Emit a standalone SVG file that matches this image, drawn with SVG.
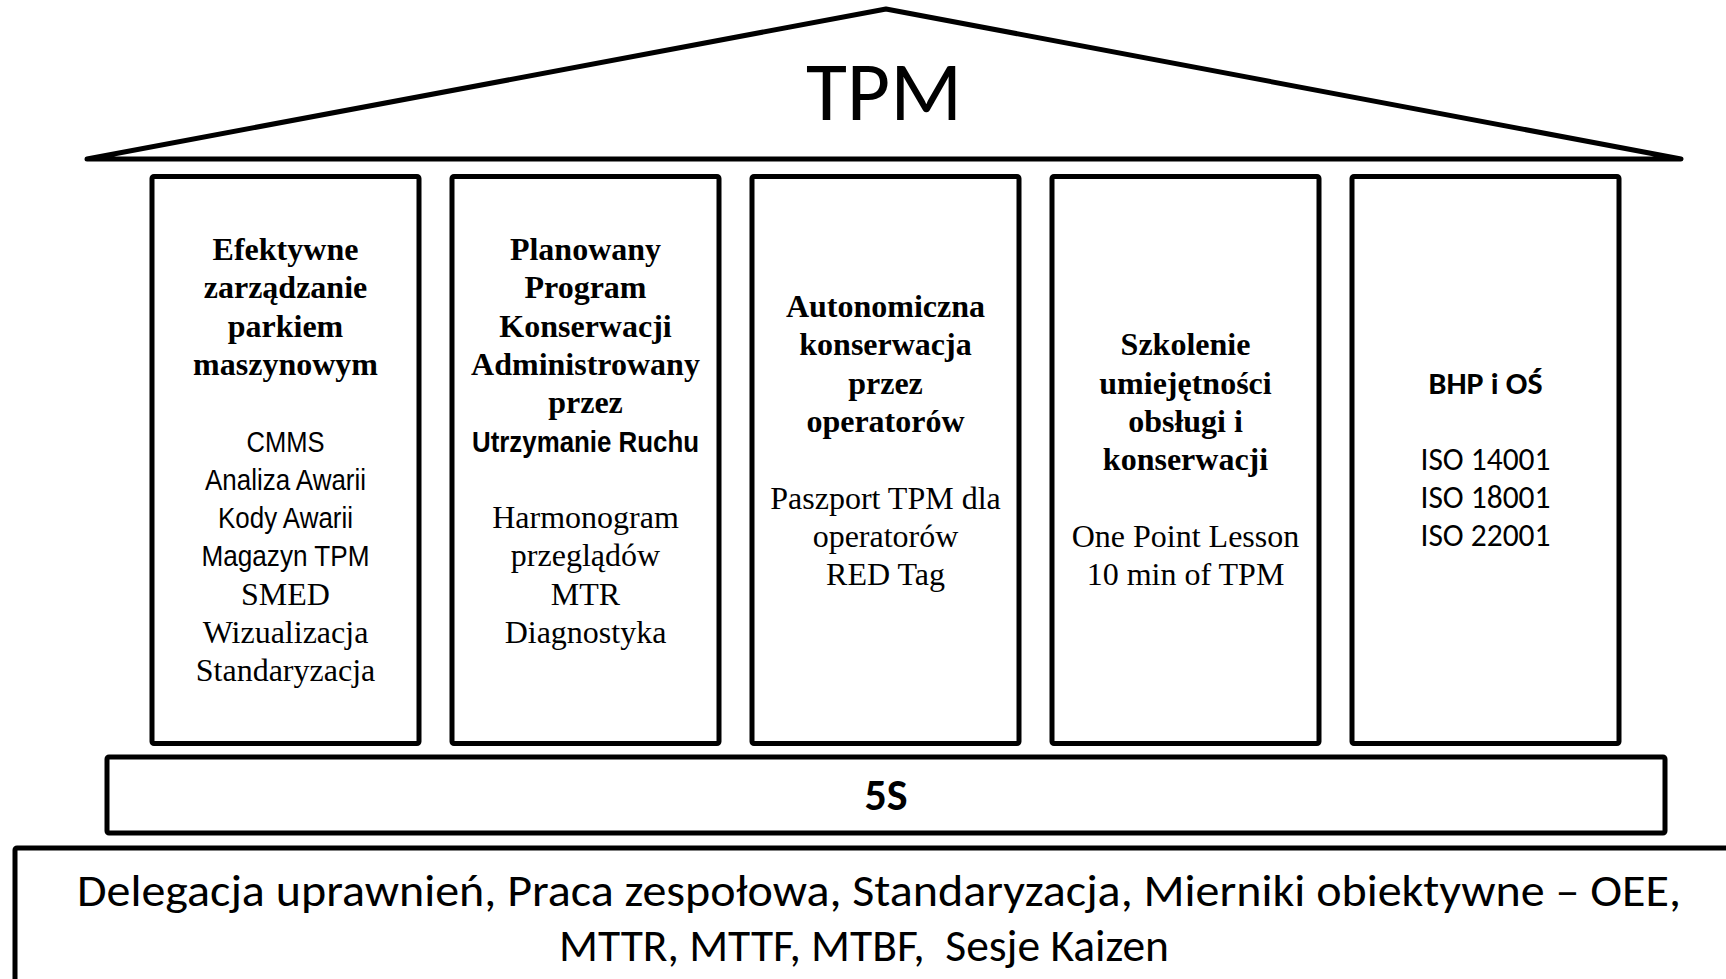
<svg xmlns="http://www.w3.org/2000/svg" width="1726" height="979" viewBox="0 0 1726 979">
<style>
.shape{fill:#fff;stroke:#000;stroke-width:5;stroke-linejoin:round}
.t{font-family:"Liberation Serif","Times New Roman",serif;font-size:32px;text-anchor:middle;fill:#000}
.b{font-weight:bold}
.n{font-family:"Liberation Sans Narrow","Liberation Sans",Arial,sans-serif;font-size:29px;text-anchor:middle;fill:#000}
.c{font-family:Carlito,Lato,"Open Sans",sans-serif;text-anchor:middle;fill:#000}
</style>
<rect width="1726" height="979" fill="#fff"/>
<g id="roof">
<polygon class="shape" points="87,159 886,9 1681,159"/>
<text class="c" x="884" y="120" font-size="84">TPM</text>
</g>
<g id="pillar1">
<rect class="shape" x="152" y="176.5" width="267" height="567" rx="2"/>
<text class="t b" x="285.5" y="260">Efektywne</text>
<text class="t b" x="285.5" y="298">zarządzanie</text>
<text class="t b" x="285.5" y="336.5">parkiem</text>
<text class="t b" x="285.5" y="374.5">maszynowym</text>
<text class="n" x="285.5" y="451.5" textLength="78" lengthAdjust="spacingAndGlyphs">CMMS</text>
<text class="n" x="285.5" y="489.5" textLength="161" lengthAdjust="spacingAndGlyphs">Analiza Awarii</text>
<text class="n" x="285.5" y="528" textLength="135" lengthAdjust="spacingAndGlyphs">Kody Awarii</text>
<text class="n" x="285.5" y="566" textLength="168" lengthAdjust="spacingAndGlyphs">Magazyn TPM</text>
<text class="t" x="285.5" y="604.5">SMED</text>
<text class="t" x="285.5" y="643">Wizualizacja</text>
<text class="t" x="285.5" y="681">Standaryzacja</text>
</g>
<g id="pillar2">
<rect class="shape" x="452" y="176.5" width="267" height="567" rx="2"/>
<text class="t b" x="585.5" y="260">Planowany</text>
<text class="t b" x="585.5" y="298">Program</text>
<text class="t b" x="585.5" y="336.5">Konserwacji</text>
<text class="t b" x="585.5" y="374.5">Administrowany</text>
<text class="t b" x="585.5" y="413">przez</text>
<text class="n b" x="585.5" y="451.5" textLength="227" lengthAdjust="spacingAndGlyphs">Utrzymanie Ruchu</text>
<text class="t" x="585.5" y="528">Harmonogram</text>
<text class="t" x="585.5" y="566">przeglądów</text>
<text class="t" x="585.5" y="604.5">MTR</text>
<text class="t" x="585.5" y="643">Diagnostyka</text>
</g>
<g id="pillar3">
<rect class="shape" x="752" y="176.5" width="267" height="567" rx="2"/>
<text class="t b" x="885.5" y="317">Autonomiczna</text>
<text class="t b" x="885.5" y="355">konserwacja</text>
<text class="t b" x="885.5" y="393.5">przez</text>
<text class="t b" x="885.5" y="432">operatorów</text>
<text class="t" x="885.5" y="508.5">Paszport TPM dla</text>
<text class="t" x="885.5" y="547">operatorów</text>
<text class="t" x="885.5" y="585">RED Tag</text>
</g>
<g id="pillar4">
<rect class="shape" x="1052" y="176.5" width="267" height="567" rx="2"/>
<text class="t b" x="1185.5" y="355">Szkolenie</text>
<text class="t b" x="1185.5" y="393.5">umiejętności</text>
<text class="t b" x="1185.5" y="432">obsługi i</text>
<text class="t b" x="1185.5" y="470">konserwacji</text>
<text class="t" x="1185.5" y="547">One Point Lesson</text>
<text class="t" x="1185.5" y="585">10 min of TPM</text>
</g>
<g id="pillar5">
<rect class="shape" x="1352" y="176.5" width="267" height="567" rx="2"/>
<text class="c" x="1485.5" y="393.5" font-size="31" font-weight="bold" textLength="114" lengthAdjust="spacingAndGlyphs">BHP i OŚ</text>
<text class="c" x="1485.5" y="470" font-size="32" textLength="130" lengthAdjust="spacingAndGlyphs">ISO 14001</text>
<text class="c" x="1485.5" y="508" font-size="32" textLength="130" lengthAdjust="spacingAndGlyphs">ISO 18001</text>
<text class="c" x="1485.5" y="546" font-size="32" textLength="130" lengthAdjust="spacingAndGlyphs">ISO 22001</text>
</g>
<g id="base5S">
<rect class="shape" x="107" y="757" width="1558" height="76" rx="2"/>
<text class="c" x="886" y="810" font-size="44" font-weight="bold">5S</text>
</g>
<g id="foundation">
<rect class="shape" x="15" y="848" width="1800" height="200" rx="2"/>
<text class="c" x="879" y="906" font-size="46" textLength="1604" lengthAdjust="spacingAndGlyphs">Delegacja uprawnień, Praca zespołowa, Standaryzacja, Mierniki obiektywne – OEE,</text>
<text class="c" x="864" y="961" font-size="46" textLength="610" lengthAdjust="spacingAndGlyphs" xml:space="preserve">MTTR, MTTF, MTBF,  Sesje Kaizen</text>
</g>
<g id="connectors"/>
</svg>
